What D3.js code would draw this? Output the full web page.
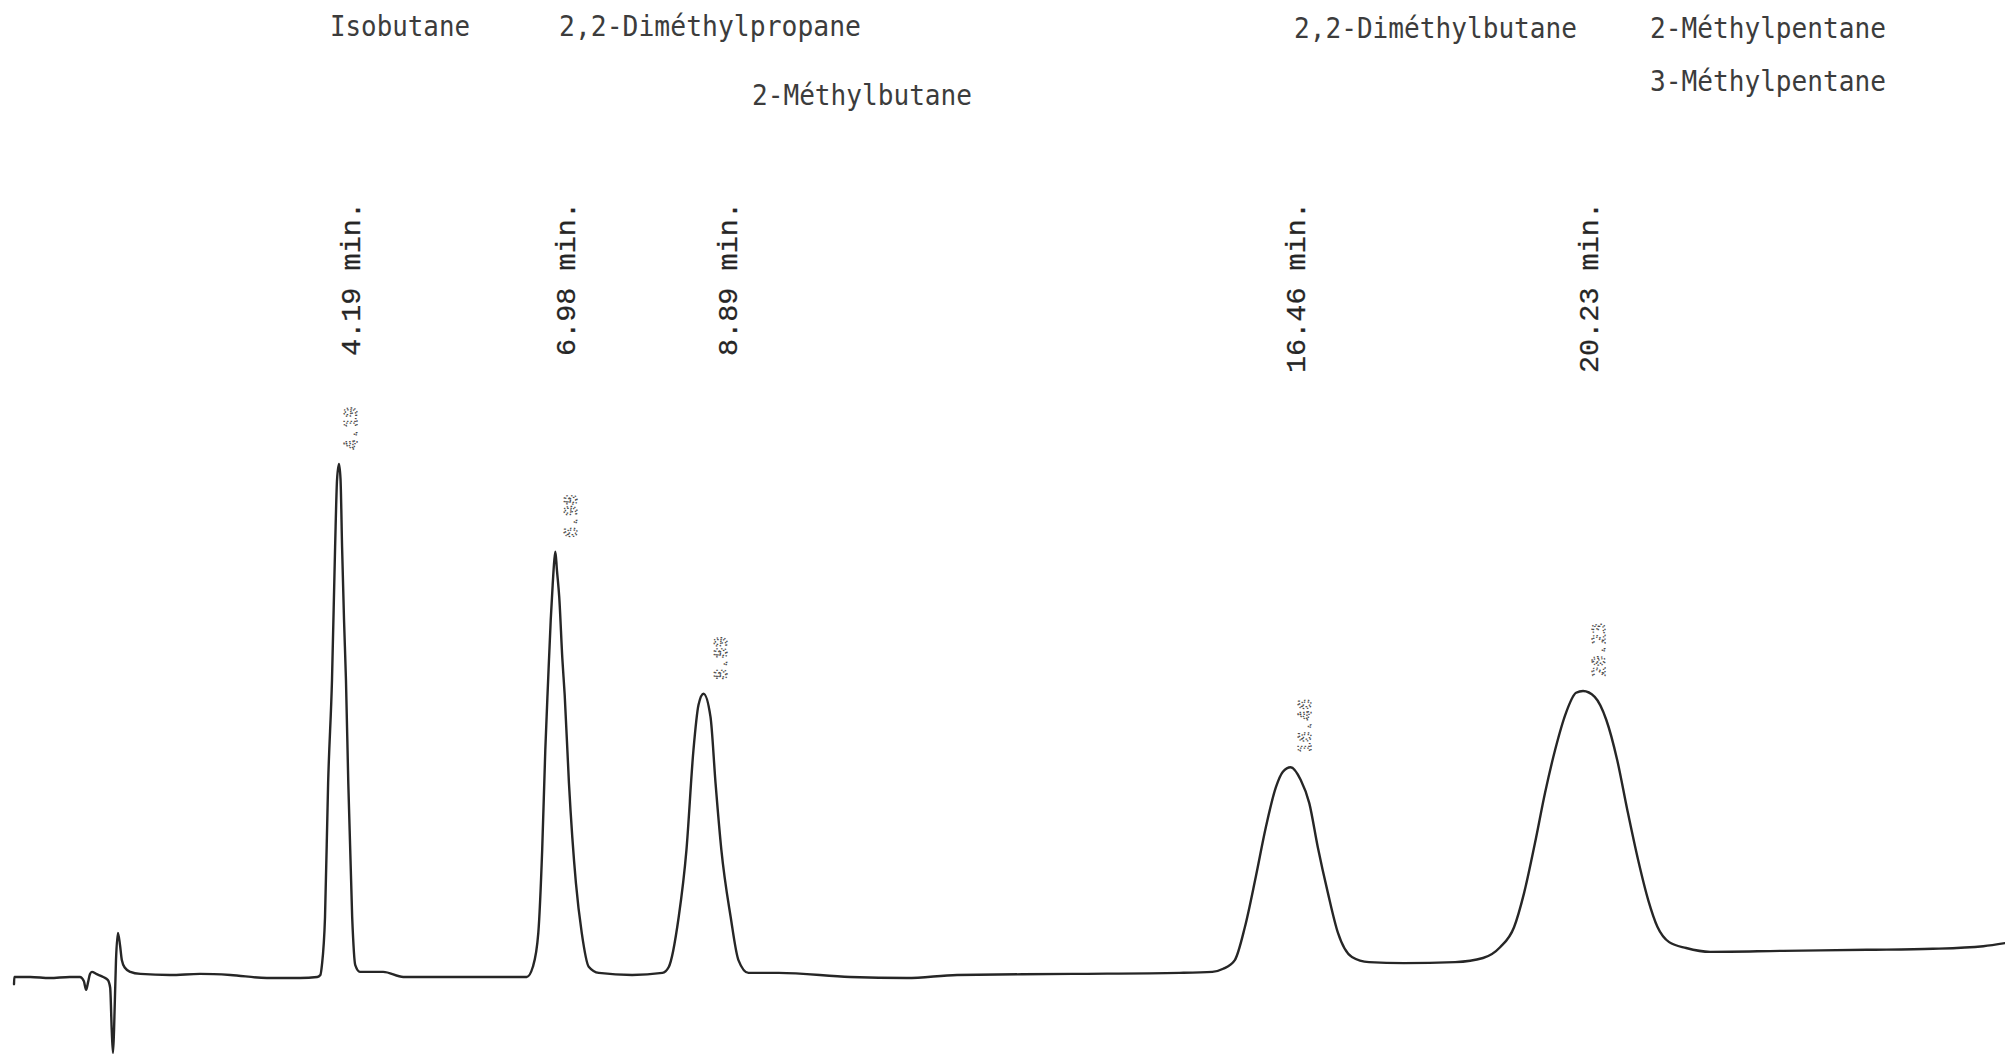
<!DOCTYPE html>
<html>
<head>
<meta charset="utf-8">
<script src="https://cdn.jsdelivr.net/npm/d3@7"></script>
<style>
  html, body { margin: 0; padding: 0; background: #ffffff; }
  svg { display: block; }
</style>
</head>
<body>
<svg id="chart" width="2005" height="1064"></svg>
<script>
// Retention times (min) of the five identified peaks
const peakTimes = [4.19, 6.98, 8.89, 16.46, 20.23];

// Compound names typed above the chromatogram
const compounds = [
  "Isobutane",
  "2,2-Diméthylpropane",
  "2-Méthylbutane",
  "2,2-Diméthylbutane",
  "2-Méthylpentane",
  "3-Méthylpentane"
];

// Detector trace: elution time (min) and signal (relative units, tallest peak = 100)
const traceTime = [
  0.00, 0.004, 0.21, 0.46, 0.72, 0.85, 0.90, 0.93, 0.955, 0.98, 1.005, 1.06, 1.15, 1.21, 1.24,
  1.26, 1.276, 1.29, 1.315, 1.34, 1.367, 1.39, 1.43, 1.50, 1.63, 2.01, 2.40, 2.79, 3.26,
  3.69, 3.91,
  3.95, 3.97, 4.01, 4.05, 4.10, 4.14, 4.165, 4.19, 4.21, 4.23, 4.255, 4.28, 4.31, 4.36,
  4.40, 4.46, 4.76, 5.02, 5.84, 6.61,
  6.69, 6.76, 6.81, 6.85, 6.885, 6.92, 6.945, 6.965, 6.98, 7.00, 7.03, 7.07, 7.10, 7.155,
  7.245, 7.32, 7.41, 7.54, 7.97, 8.36,
  8.44, 8.57, 8.67, 8.76, 8.825, 8.89, 8.98, 9.045, 9.12, 9.24, 9.34, 9.47, 9.86,
  10.78, 11.51, 12.16, 13.65, 15.03, 15.45, 15.59,
  15.74, 15.87, 16.01, 16.14, 16.27, 16.36, 16.46, 16.59, 16.70, 16.81, 16.94, 17.07,
  17.25, 17.47, 17.92, 18.58, 18.94,
  19.16, 19.34, 19.47, 19.61, 19.74, 19.87, 20.01, 20.14, 20.23, 20.38, 20.53, 20.67,
  20.80, 20.94, 21.07, 21.19, 21.34, 21.56, 21.87, 22.81, 23.89, 24.74, 25.39, 25.67
];
const traceSignal = [
  -1.4, 0.0, 0.0, -0.2, 0.0, 0.0, -0.8, -2.5, -1.0, 0.6, 1.0, 0.6, 0.0, -0.6, -2.1,
  -10.3, -14.8, -10.3, 3.3, 8.6, 6.2, 3.3, 1.8, 1.0, 0.6, 0.4, 0.6, 0.4, -0.2,
  -0.2, 0.0,
  0.4, 2.3, 11.7, 37.8, 57.9, 83.8, 96.9, 100.0, 97.0, 83.8, 69.6, 57.9, 37.8, 11.7,
  2.3, 1.0, 1.0, 0.0, 0.0, 0.0,
  2.0, 8.6, 24.8, 44.2, 57.3, 69.6, 76.4, 81.0, 82.9, 79.3, 74.0, 62.0, 55.0, 37.8,
  18.3, 8.6, 2.0, 0.8, 0.4, 0.8,
  1.9, 11.7, 24.8, 44.2, 53.0, 55.2, 50.7, 37.8, 24.8, 11.7, 3.3, 0.8, 0.8,
  0.0, -0.2, 0.4, 0.6, 0.8, 1.0, 1.6,
  3.3, 9.75, 19.5, 29.2, 37.0, 40.0, 40.9, 38.4, 33.9, 25.3, 16.4, 8.6,
  3.9, 2.9, 2.7, 2.9, 3.7,
  5.8, 9.7, 16.4, 26.1, 35.9, 44.3, 51.5, 55.4, 55.75, 54.6, 50.1, 42.3,
  32.6, 22.8, 15.0, 9.75, 6.8, 5.65, 4.9, 5.1, 5.3, 5.5, 6.0, 6.6
];

// ---- layout (pixels) ----
const W = 2005, H = 1064;
// left edge, right edge and baseline of each compound name
const compoundLayout = [
  [330, 470, 36], [559, 861, 36], [752, 972, 105],
  [1294, 1577, 38], [1650, 1886, 38], [1650, 1886, 91]
];
// typed "x.xx min." labels: horizontal nudge from the apex, common top edge
const minLabelDx = [21, 19.6, 33.5, 14.4, 15];
const minLabelTop = 202;
// dot-matrix integrator printout: nudge from the apex
const printDx = [18, 22, 23.5, 20.5, 22];
const printGap = 14;

const svg = d3.select("#chart");
svg.append("rect").attr("width", W).attr("height", H).attr("fill", "#ffffff");

const x = d3.scaleLinear().domain([0, 25.67]).range([14, W]);
const y = d3.scaleLinear().domain([0, 100]).range([977, 464]);

const trace = traceTime.map((t, i) => ({ t, s: traceSignal[i] }));
const apexSignal = t => trace.find(p => p.t === t).s;

// detector trace
const line = d3.line()
  .x(d => x(d.t))
  .y(d => y(d.s))
  .curve(d3.curveMonotoneX);

svg.append("path")
  .datum(trace)
  .attr("d", line)
  .attr("fill", "none")
  .attr("stroke", "#262626")
  .attr("stroke-width", 2.4)
  .attr("stroke-linejoin", "round")
  .attr("stroke-linecap", "round");

// compound names
svg.append("g").selectAll("text")
  .data(compounds)
  .join("text")
  .attr("x", (d, i) => compoundLayout[i][0])
  .attr("y", (d, i) => compoundLayout[i][2])
  .attr("textLength", (d, i) => compoundLayout[i][1] - compoundLayout[i][0])
  .attr("lengthAdjust", "spacingAndGlyphs")
  .attr("fill", "#3c3c3c")
  .style("font-family", "'DejaVu Sans Mono', monospace")
  .style("font-size", "29px")
  .text(d => d);

// typed retention-time labels
svg.append("g").selectAll("text")
  .data(peakTimes)
  .join("text")
  .attr("transform", (d, i) => `translate(${x(d) + minLabelDx[i]},${minLabelTop}) rotate(-90)`)
  .attr("text-anchor", "end")
  .attr("fill", "#262626")
  .attr("stroke", "#262626")
  .attr("stroke-width", 0.25)
  .style("font-family", "'Liberation Mono', 'Courier New', monospace")
  .style("font-size", "28.5px")
  .text(d => d.toFixed(2) + " min.");

// integrator printout next to each apex
svg.append("g").selectAll("text")
  .data(peakTimes)
  .join("text")
  .attr("transform", (d, i) => `translate(${x(d) + printDx[i]},${y(apexSignal(d)) - printGap}) rotate(-90)`)
  .attr("text-anchor", "start")
  .attr("fill", "none")
  .attr("stroke", "#4a4a4a")
  .attr("stroke-width", 1.3)
  .attr("stroke-dasharray", "1.4 2.2")
  .style("font-family", "'DejaVu Sans Mono', monospace")
  .style("font-size", "18px")
  .text(d => d.toFixed(2));
</script>
</body>
</html>
